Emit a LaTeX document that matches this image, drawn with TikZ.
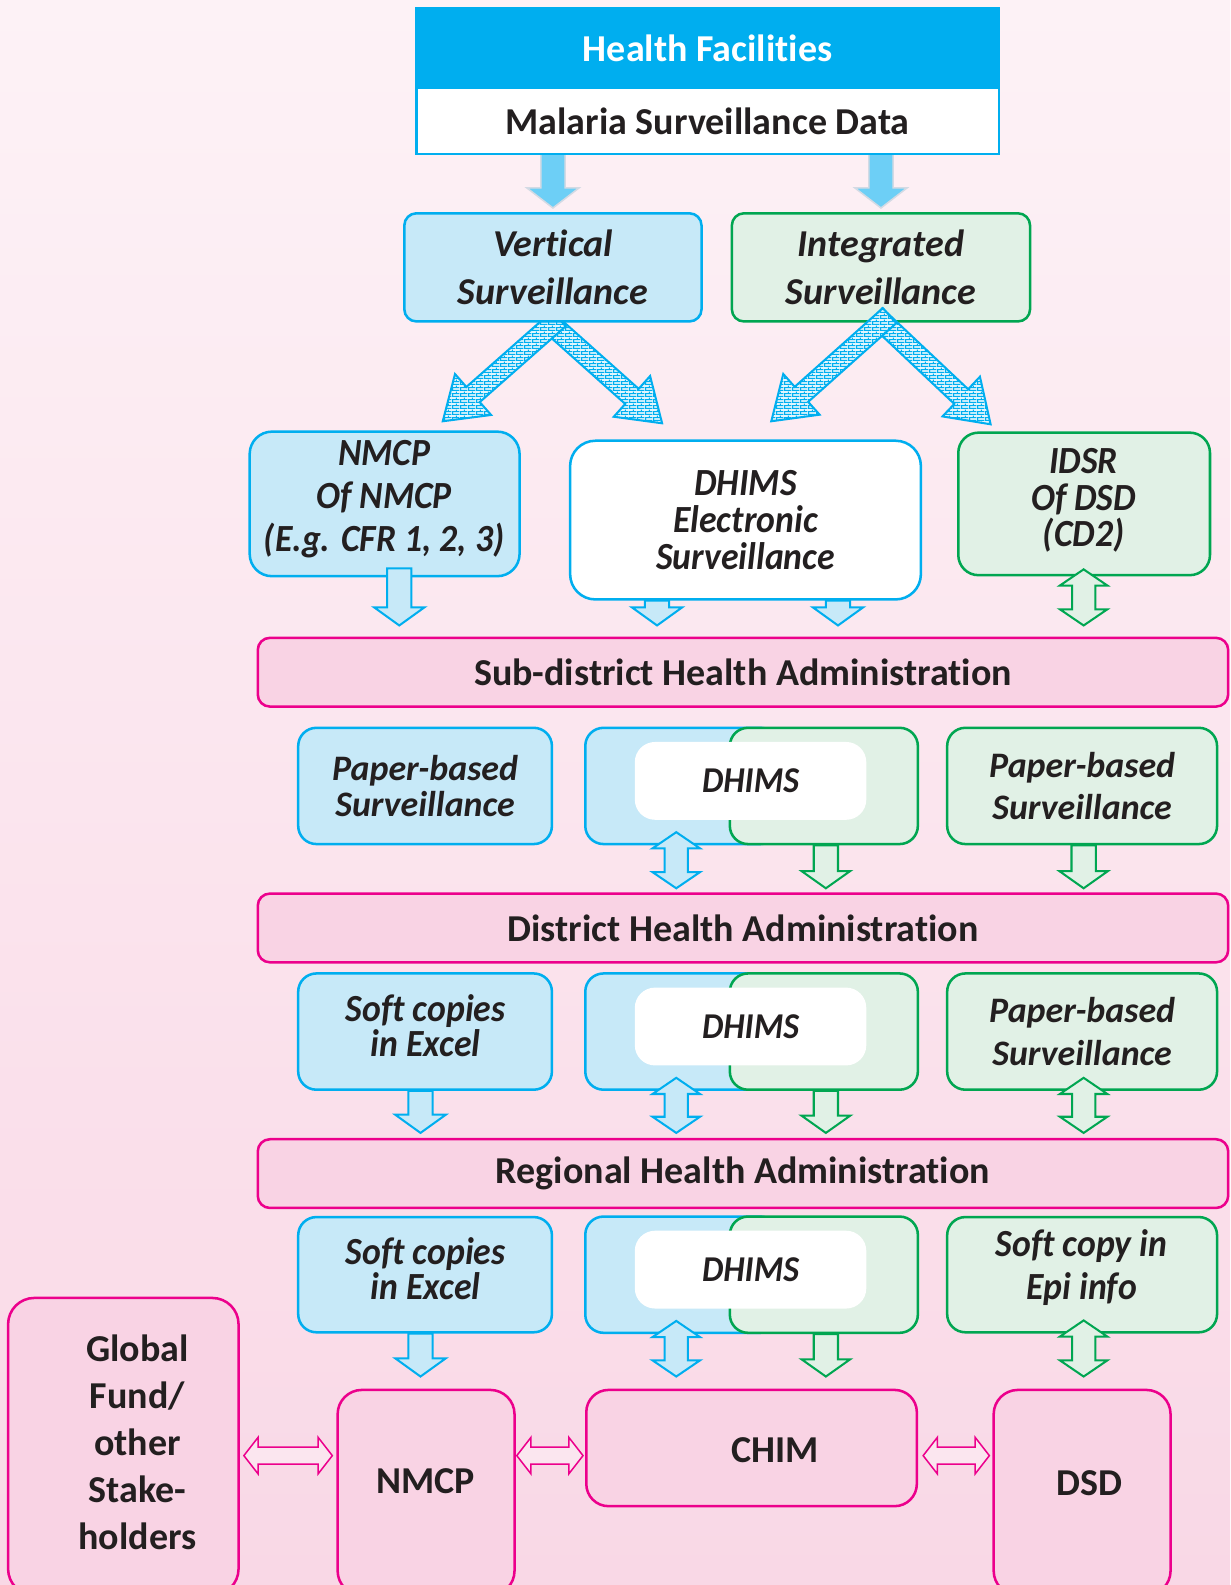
\documentclass[tikz,border=0pt]{standalone}
\usepackage{fontspec}
\setmainfont{Carlito}[Ligatures={NoCommon,NoContextual}, Contextuals=NoAlternate]
\newfontfamily\condfont{Carlito}[FakeStretch=0.93, Ligatures={NoCommon,NoContextual}, Contextuals=NoAlternate]
\usetikzlibrary{calc,patterns}

\definecolor{cy}{HTML}{00AEEF}
\definecolor{cyfill}{HTML}{C7E9F8}
\definecolor{cyarr}{HTML}{6DCFF6}
\definecolor{arredge}{HTML}{D3DAE4}
\definecolor{gr}{HTML}{00A651}
\definecolor{grfill}{HTML}{E1F1E6}
\definecolor{mg}{HTML}{EC008C}
\definecolor{pkfill}{HTML}{F9D3E4}
\definecolor{pkarr}{HTML}{FBE6EF}
\definecolor{bgtop}{HTML}{FDF2F6}
\definecolor{bgbot}{HTML}{F9D8E6}
\definecolor{ink}{HTML}{231F20}

\pgfdeclarelayer{backdrop}
\pgfdeclarelayer{under}
\pgfsetlayers{backdrop,under,main}

% small brick texture for the slanted arrows
\pgfdeclarepatternformonly{tinybricks}{\pgfpointorigin}{\pgfpoint{8pt}{6pt}}{\pgfpoint{8pt}{6pt}}{%
  \pgfsetlinewidth{1.2pt}%
  \pgfpathmoveto{\pgfpoint{0pt}{0.75pt}}\pgfpathlineto{\pgfpoint{8pt}{0.75pt}}%
  \pgfpathmoveto{\pgfpoint{0pt}{3.75pt}}\pgfpathlineto{\pgfpoint{8pt}{3.75pt}}%
  \pgfpathmoveto{\pgfpoint{0.75pt}{0.75pt}}\pgfpathlineto{\pgfpoint{0.75pt}{3.75pt}}%
  \pgfpathmoveto{\pgfpoint{4.75pt}{3.75pt}}\pgfpathlineto{\pgfpoint{4.75pt}{6pt}}%
  \pgfpathmoveto{\pgfpoint{4.75pt}{0pt}}\pgfpathlineto{\pgfpoint{4.75pt}{0.75pt}}%
  \pgfusepath{stroke}%
}

% block arrow geometry: half shaft width, half head width, head length
\newcommand\bsw{12}
\newcommand\bhw{26}
\newcommand\bhl{20}

\newcommand\fsz[2]{\fontsize{#1}{#2}\selectfont}
\newcommand\fhead{\fsz{37.6}{47}\bfseries}
\newcommand\fbi{\fsz{37.6}{47}\bfseries\itshape}
\newcommand\fpb[1]{\fsz{35.5}{#1}\bfseries\itshape}
\newcommand\fcnd[2]{\condfont\fontsize{#1}{#2}\selectfont\bfseries\itshape}

% three-part DHIMS block: blue back, green back, white label
\newcommand\dhims[2]{%
  \node[bluebox=18, wh={191}{115}] (dhb#1) at (674.5,#2) {};
  \node[greenbox=18, wh={186}{115}] (dhg#1) at (815,#2) {};
  \node[fill=white, rounded corners=20, wh={229}{77}, font=\fcnd{36}{40}, text=ink] (dhw#1) at (742.5,#2-5) {DHIMS};
}

\tikzset{
  shaftw/.code={\def\bsw{#1}},
  headw/.code={\def\bhw{#1}},
  headl/.code={\def\bhl{#1}},
  onehead/.style={to path={
    let \p1=(\tikztostart), \p2=(\tikztotarget),
        \n1={veclen(\x2-\x1,\y2-\y1)},
        \n2={(\x2-\x1)/\n1}, \n3={(\y2-\y1)/\n1},
        \n4={\n1-\bhl}
    in ({\x1-\bsw*\n3},{\y1+\bsw*\n2})
    -- ({\x1+\n4*\n2-\bsw*\n3},{\y1+\n4*\n3+\bsw*\n2})
    -- ({\x1+\n4*\n2-\bhw*\n3},{\y1+\n4*\n3+\bhw*\n2})
    -- (\x2,\y2)
    -- ({\x1+\n4*\n2+\bhw*\n3},{\y1+\n4*\n3-\bhw*\n2})
    -- ({\x1+\n4*\n2+\bsw*\n3},{\y1+\n4*\n3-\bsw*\n2})
    -- ({\x1+\bsw*\n3},{\y1-\bsw*\n2})
    -- cycle}},
  twohead/.style={to path={
    let \p1=(\tikztostart), \p2=(\tikztotarget),
        \n1={veclen(\x2-\x1,\y2-\y1)},
        \n2={(\x2-\x1)/\n1}, \n3={(\y2-\y1)/\n1},
        \n4={\n1-\bhl}
    in (\x1,\y1)
    -- ({\x1+\bhl*\n2-\bhw*\n3},{\y1+\bhl*\n3+\bhw*\n2})
    -- ({\x1+\bhl*\n2-\bsw*\n3},{\y1+\bhl*\n3+\bsw*\n2})
    -- ({\x1+\n4*\n2-\bsw*\n3},{\y1+\n4*\n3+\bsw*\n2})
    -- ({\x1+\n4*\n2-\bhw*\n3},{\y1+\n4*\n3+\bhw*\n2})
    -- (\x2,\y2)
    -- ({\x1+\n4*\n2+\bhw*\n3},{\y1+\n4*\n3-\bhw*\n2})
    -- ({\x1+\n4*\n2+\bsw*\n3},{\y1+\n4*\n3-\bsw*\n2})
    -- ({\x1+\bhl*\n2+\bsw*\n3},{\y1+\bhl*\n3-\bsw*\n2})
    -- ({\x1+\bhl*\n2+\bhw*\n3},{\y1+\bhl*\n3-\bhw*\n2})
    -- cycle}},
  toparr/.style={onehead, shaftw=12, headw=26, headl=20, fill=cyarr, draw=arredge, line width=1.5},
  barr/.style={onehead, shaftw=12, headw=25, headl=18, fill=cyfill, draw=cy, line width=2},
  bdarr/.style={twohead, shaftw=11.5, headw=23.5, headl=16, fill=cyfill, draw=cy, line width=2},
  garr/.style={onehead, shaftw=12, headw=24, headl=17, fill=grfill, draw=gr, line width=2},
  gdarr/.style={twohead, shaftw=11.5, headw=23.5, headl=16, fill=grfill, draw=gr, line width=2},
  parr/.style={twohead, shaftw=8.5, headw=18, headl=14, fill=pkarr, draw=mg, line width=1.5},
  diagarr/.style={onehead, shaftw=10, headw=27, headl=40, draw=cy, line width=2,
    preaction={fill=cy!12!white}, pattern=tinybricks, pattern color=cy},
  wh/.style 2 args={minimum width=#1, minimum height=#2, inner sep=0pt},
  bluebox/.style={draw=cy, fill=cyfill, line width=2.5, rounded corners=#1, align=center, text=ink},
  bluebox/.default=18,
  greenbox/.style={draw=gr, fill=grfill, line width=2.5, rounded corners=#1, align=center, text=ink},
  greenbox/.default=18,
  whitebox/.style={draw=cy, fill=white, line width=2.5, rounded corners=#1, align=center, text=ink},
  whitebox/.default=18,
  pinkbox/.style={draw=mg, fill=pkfill, line width=2.5, rounded corners=#1, align=center, text=ink},
  pinkbox/.default=24,
  bar/.style={pinkbox=12, wh={960}{68}, font=\fhead},
  txt/.style={inner sep=0pt, align=center, text=ink},
}

\begin{document}
\begin{tikzpicture}[x=1pt, y=-1pt, line join=miter]
\useasboundingbox (0,0) rectangle (1217,1568);
\begin{pgfonlayer}{backdrop}
  \shade[top color=bgtop, bottom color=bgbot] (0,0) rectangle (1217,1568);
\end{pgfonlayer}

% source
\node[fill=cy, wh={576}{80}, font=\fhead, text=white] (hf) at (700,48) {Health Facilities};
\node[fill=white, wh={576}{64}, font=\fhead, text=ink] (msd) at (700,120) {Malaria Surveillance Data};
\draw[cy, line width=2.5] (hf.north west) rectangle (msd.south east);

% surveillance streams
\node[bluebox=12, wh={294}{107}, font=\fbi] (vs) at (547,264.5) {Vertical\\Surveillance};
\node[greenbox=12, wh={295}{107}, font=\fbi] (is) at (871.5,264.5) {Integrated\\Surveillance};

% reporting systems
\node[bluebox=22, wh={267}{143}] (nmcp) at (380.5,498.5) {};
\node[txt, font=\fcnd{38}{42.5}] (nmcpt) at (380,493.5) {NMCP\\Of NMCP\\(E.g. CFR 1, 2, 3)};
\node[whitebox=25, wh={347}{157}, font=\fcnd{38}{37}] (de) at (737.5,514.5) {DHIMS\\Electronic\\Surveillance};
\node[greenbox=20, wh={249}{141}] (idsr) at (1072.5,498.5) {};
\node[txt, font=\fcnd{38}{36}] (idsrt) at (1072,495) {IDSR\\Of DSD\\(CD2)};

% sub-district level
\node[bar] (sd) at (735,665) {Sub-district Health Administration};
\node[bluebox=18, wh={251}{115}, font=\fpb{35}] (pb1) at (420.5,777.5) {Paper-based\\Surveillance};
\dhims{1}{777.5}
\node[greenbox=18, wh={267}{115}, font=\fpb{42}] (pb2) at (1070.5,777.5) {Paper-based\\Surveillance};

% district level
\node[bar] (dd) at (735,918) {District Health Administration};
\node[bluebox=18, wh={251}{115}] (sc1) at (420.5,1020.5) {};
\node[txt, font=\fcnd{38}{35}] (sc1t) at (421,1014.5) {Soft copies\\in Excel};
\dhims{2}{1020.5}
\node[greenbox=18, wh={267}{115}, font=\fpb{42}] (pb3) at (1070.5,1020.5) {Paper-based\\Surveillance};

% regional level
\node[bar] (rg) at (735,1161) {Regional Health Administration};
\node[bluebox=18, wh={251}{114}] (sc2) at (420.5,1261) {};
\node[txt, font=\fcnd{38}{35}] (sc2t) at (421,1255) {Soft copies\\in Excel};
\dhims{3}{1261}
\node[greenbox=18, wh={267}{114}] (se) at (1070.5,1261) {};
\node[txt, font=\fcnd{38}{42}] (set) at (1070,1254) {Soft copy in\\Epi info};

% national level
\node[pinkbox=26, wh={228}{294}] (gf) at (122,1431) {};
\node[txt, font=\fsz{37.6}{46.5}\bfseries] (gft) at (136,1427) {Global\\Fund/\\other\\Stake-\\holders};
\node[pinkbox=24, wh={175}{203}] (nm2) at (421.5,1476.5) {};
\node[txt, font=\fhead] (nm2t) at (421,1465) {NMCP};
\node[pinkbox=22, wh={327}{115}] (chim) at (743.5,1432.5) {};
\node[txt, font=\fhead] (chimt) at (767,1435) {CHIM};
\node[pinkbox=24, wh={175}{203}] (dsd) at (1070.5,1476.5) {};
\node[txt, font=\fhead] (dsdt) at (1078,1467) {DSD};

% arrows tucked under the boxes
\begin{pgfonlayer}{under}
  \draw[toparr] (msd.south -| vs.north) to ($(vs.north)+(0,-4)$);
  \draw[toparr] (msd.south -| is.north) to ($(is.north)+(0,-4)$);
  \draw[diagarr] ($(vs.south)+(-8,-4)$) to ($(de.north)+(-82.5,-16)$);
  \draw[diagarr] ($(vs.south)+(6,-4)$) to ($(nmcp.north)+(57.5,-9)$);
\end{pgfonlayer}

% integrated stream splits
\draw[diagarr] ($(is.south)+(-5.5,-7)$) to ($(idsr.north)+(-92.5,-7)$);
\draw[diagarr] ($(is.south)+(8.5,-7)$) to ($(de.north)+(25.5,-18)$);

% into sub-district
\draw[barr] ($(nmcp.south)+(14.5,-9)$) to ($(nmcp.south |- sd.north)+(14.5,-11)$);
\draw[barr] ($(de.south)+(-87.5,0)$) to ($(de.south |- sd.north)+(-87.5,-11)$);
\draw[barr] ($(de.south)+(91.5,0)$) to ($(de.south |- sd.north)+(91.5,-11)$);
\draw[gdarr] ($(idsr.south)+(-0.5,-7)$) to ($(idsr.south |- sd.north)+(-0.5,-11)$);

% into district
\draw[bdarr] ($(dhb1.south)+(-5.5,-13)$) to ($(dhb1.south |- dd.north)+(-5.5,-4)$);
\draw[garr] ($(dhg1.south)+(2,0)$) to ($(dhg1.south |- dd.north)+(2,-4)$);
\draw[garr] ($(pb2.south)+(1.5,0)$) to ($(pb2.south |- dd.north)+(1.5,-4)$);

% into region
\draw[barr] ($(sc1.south)+(-4.5,0)$) to ($(sc1.south |- rg.north)+(-4.5,-5)$);
\draw[bdarr] ($(dhb2.south)+(-5.5,-13)$) to ($(dhb2.south |- rg.north)+(-5.5,-5)$);
\draw[garr] ($(dhg2.south)+(2,0)$) to ($(dhg2.south |- rg.north)+(2,-5)$);
\draw[gdarr] ($(pb3.south)+(1.5,-13)$) to ($(pb3.south |- rg.north)+(1.5,-5)$);

% into national bodies
\draw[barr] ($(sc2.south)+(-4.5,0)$) to ($(sc2.south |- nm2.north)+(-4.5,-12)$);
\draw[bdarr] ($(dhb3.south)+(-5.5,-13)$) to ($(dhb3.south |- chim.north)+(-5.5,-12)$);
\draw[garr] ($(dhg3.south)+(2,0)$) to ($(dhg3.south |- chim.north)+(2,-12)$);
\draw[gdarr] ($(se.south)+(1.5,-13)$) to ($(se.south |- dsd.north)+(1.5,-12)$);

% exchanges between national bodies
\draw[parr] ($(gf.east)+(4,9)$) to ($(nm2.west)+(-4,-36.5)$);
\draw[parr] ($(nm2.east)+(1,-36.5)$) to ($(chim.west)+(-2,7.5)$);
\draw[parr] ($(chim.east)+(5,7.5)$) to ($(dsd.west)+(-3,-36.5)$);
\end{tikzpicture}
\end{document}
